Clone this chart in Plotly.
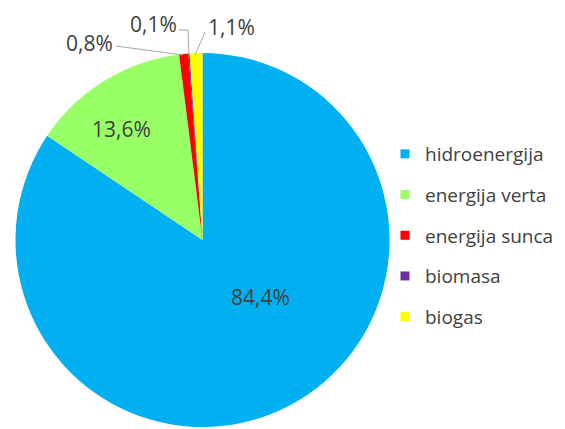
import plotly.graph_objects as go

labels = ["hidroenergija", "energija verta", "energija sunca", "biomasa", "biogas"]
values = [84.4, 13.6, 0.8, 0.1, 1.1]
colors = ["#00B0F0", "#99FF66", "#FF0000", "#7030A0", "#FFFF00"]

# the page body adds an 8px margin, so the figure is drawn 8px smaller
OFF = 8
W, H = 565 - OFF, 429 - OFF
FONT = "Open Sans"
TXT = "#404040"


def px(x, y):
    """Screen pixel -> paper coords."""
    return (x - OFF) / W, 1 - (y - OFF) / H


def pct(v):
    return f"{v:.1f}".replace(".", ",") + "%"


fig = go.Figure()

x0, y0 = px(15, 427)
x1, y1 = px(390, 53)
fig.add_trace(
    go.Pie(
        labels=labels,
        values=values,
        marker={"colors": colors, "line": {"width": 0}},
        sort=False,
        direction="clockwise",
        rotation=0,
        textinfo="none",
        hoverinfo="label+percent",
        showlegend=False,
        domain={"x": [x0, x1], "y": [max(y0, 0), y1]},
    )
)

# legend entries (one group each so the spacing can be set)
for i, (name, c) in enumerate(zip(labels, colors)):
    fig.add_trace(
        go.Scatter(
            x=[None],
            y=[None],
            mode="markers",
            name=name,
            legendgroup=f"g{i}",
            marker={"symbol": "square", "size": 9, "color": c},
        )
    )

# label positions (screen pixels) for each slice
label_pos = [(260, 297), (121, 129), (89, 43), (153, 24), (231, 27)]
annotations = []
for v, (lx, ly) in zip(values, label_pos):
    ax, ay = px(lx, ly)
    annotations.append(
        dict(
            x=ax, y=ay, xref="paper", yref="paper",
            xanchor="center", yanchor="middle",
            text=pct(v), showarrow=False,
            font={"family": FONT, "size": 21, "color": TXT},
        )
    )

# leader lines for the small slices
leaders = [
    [(116, 46), (183, 55)],
    [(179, 30), (188, 30), (189, 55)],
    [(205, 32), (195, 55)],
]
shapes = []
for pts in leaders:
    path = "M " + " L ".join(f"{px(x, y)[0]},{px(x, y)[1]}" for x, y in pts)
    shapes.append(
        dict(type="path", path=path, xref="paper", yref="paper",
             line={"color": "#A6A6A6", "width": 1})
    )

lx, ly = px(385, 135)
fig.update_layout(
    width=W,
    height=H,
    margin={"l": 0, "r": 0, "t": 0, "b": 0, "autoexpand": False},
    paper_bgcolor="white",
    plot_bgcolor="white",
    xaxis={"visible": False},
    yaxis={"visible": False},
    annotations=annotations,
    shapes=shapes,
    legend={
        "x": lx,
        "y": ly,
        "xanchor": "left",
        "yanchor": "top",
        "traceorder": "grouped",
        "tracegroupgap": 13,
        "font": {"family": FONT, "size": 19, "color": TXT},
        "bgcolor": "rgba(0,0,0,0)",
    },
    showlegend=True,
)

fig.write_html("out.html")
